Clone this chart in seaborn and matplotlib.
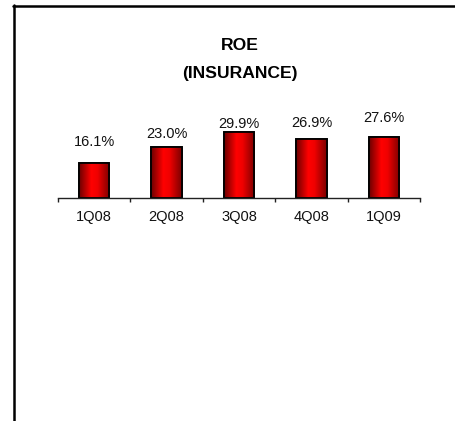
import numpy as np
import pandas as pd
import matplotlib
matplotlib.use("Agg")
import matplotlib.pyplot as plt
import seaborn as sns
from matplotlib.colors import LinearSegmentedColormap
from matplotlib.lines import Line2D

# ---- data ----
quarters = ["1Q08", "2Q08", "3Q08", "4Q08", "1Q09"]
roe_values = [16.1, 23.0, 29.9, 26.9, 27.6]
value_labels = ["16.1%", "23.0%", "29.9%", "26.9%", "27.6%"]
title_lines = ["ROE", "(INSURANCE)"]

# layout: per-label vertical offsets (pixels above bar top)
label_offsets_px = [21, 13, 8, 16, 19]

df = pd.DataFrame({"quarter": quarters, "roe": roe_values})

sns.set_theme(style="white")
plt.rcParams["font.family"] = ["Liberation Sans", "DejaVu Sans"]

W, H = 455, 421
fig = plt.figure(figsize=(W / 100, H / 100), dpi=100)
fig.patch.set_facecolor("white")

ax_left, ax_right = 58, 420
ax_base, ax_top = 198, 110
ax = fig.add_axes([ax_left / W, (H - ax_base) / H,
                   (ax_right - ax_left) / W, (ax_base - ax_top) / H])
ax.set_facecolor("none")

sns.barplot(data=df, x="quarter", y="roe", ax=ax, width=0.42,
            color="#e00000", edgecolor="black", linewidth=1.2, saturation=1)

ax.set_xlim(-0.5, 4.5)
ax.set_ylim(0, 40)

# gradient fill clipped to each bar
cmap = LinearSegmentedColormap.from_list(
    "redgrad", [(0.0, "#6a0000"), (0.4, "#ff0000"), (0.6, "#f00000"), (1.0, "#7a0000")])
grad = np.linspace(0, 1, 256).reshape(1, -1)
for p in list(ax.patches):
    x0, y0 = p.get_x(), p.get_y()
    w, h = p.get_width(), p.get_height()
    im = ax.imshow(grad, cmap=cmap, aspect="auto",
                   extent=[x0, x0 + w, y0, y0 + h], zorder=p.get_zorder() + 0.1)
    im.set_clip_path(p)
    outline = plt.Rectangle((x0, y0), w, h, fill=False, edgecolor="black",
                            linewidth=1.3, zorder=p.get_zorder() + 0.2)
    ax.add_patch(outline)

ax.set_xlim(-0.5, 4.5)
ax.set_ylim(0, 40)

# value labels
for i, (v, lab) in enumerate(zip(roe_values, value_labels)):
    ax.annotate(lab, xy=(i, v), xytext=(0, label_offsets_px[i]),
                textcoords="offset pixels", ha="center", va="center",
                fontsize=10.5, color="#111111")

# axes styling
for s in ["top", "right", "left"]:
    ax.spines[s].set_visible(False)
ax.spines["bottom"].set_color("#222222")
ax.spines["bottom"].set_linewidth(1.0)
ax.set_yticks([])
ax.set_xlabel("")
ax.set_ylabel("")
ax.set_xticks(range(len(quarters)))
ax.set_xticklabels(quarters, fontsize=10.5, color="#111111")
ax.tick_params(axis="x", which="major", length=0, pad=9)
ax.set_xticks(np.arange(-0.5, len(quarters), 1.0), minor=True)
ax.tick_params(axis="x", which="minor", length=3, width=1.0, color="#222222",
               direction="out", bottom=True)

# title
fig.text(239.5 / W, 1 - 46 / H, title_lines[0], ha="center", va="center",
         fontsize=12.6, fontweight="bold", color="black")
fig.text(239.5 / W, 1 - 73.5 / H, title_lines[1], ha="center", va="center",
         fontsize=12.6, fontweight="bold", color="black")

# frame lines (top and left)
fig.add_artist(Line2D([13 / W, 1.0], [1 - 5.5 / H, 1 - 5.5 / H],
                      transform=fig.transFigure, color="black", linewidth=1.8))
fig.add_artist(Line2D([13.5 / W, 13.5 / W], [0, 1 - 5 / H],
                      transform=fig.transFigure, color="black", linewidth=1.8))

fig.savefig("out.png", dpi=100, facecolor="white")
